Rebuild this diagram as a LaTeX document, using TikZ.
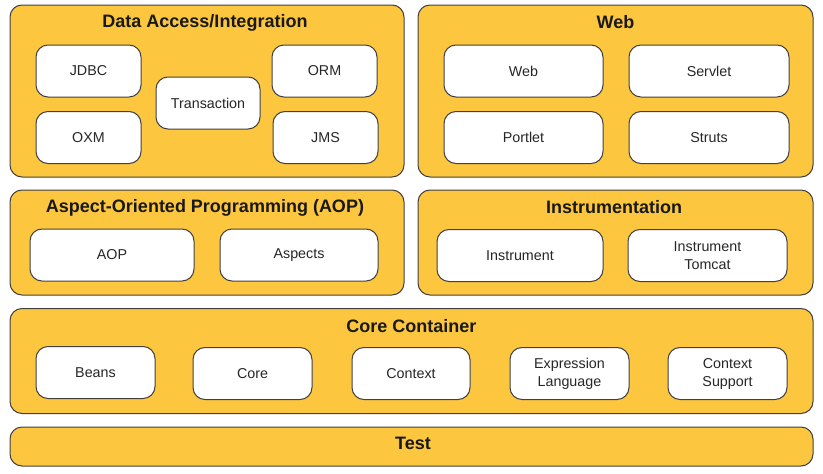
\documentclass[tikz,border=0pt]{standalone}
\usepackage{fontspec}
\setmainfont{Liberation Sans}
\begin{document}
\begin{tikzpicture}[x=1pt,y=-1pt,
  panel/.style={draw=black!75, line width=1pt, fill=springyellow, rounded corners=12pt, inner sep=0pt},
  mod/.style={draw=black!75, line width=1pt, fill=white, rounded corners=12pt, inner sep=0pt, align=center,
     font=\fontsize{14.3}{18}\selectfont, text=black!85},
  ttl/.style={font=\fontsize{18}{20}\selectfont\bfseries, text=black!90, inner sep=0pt}]
\definecolor{springyellow}{HTML}{FCC63F}
\useasboundingbox (0,0) rectangle (823,474);
% panels
\node[panel, minimum width=394pt, minimum height=172pt] (da) at (207,91) {};
\node[panel, minimum width=395pt, minimum height=172pt] (web) at (615.5,91) {};
\node[panel, minimum width=394pt, minimum height=105pt] (aop) at (207,242.5) {};
\node[panel, minimum width=395pt, minimum height=105pt] (ins) at (615.5,242.5) {};
\node[panel, minimum width=803pt, minimum height=105pt] (core) at (411.5,361) {};
\node[panel, minimum width=803pt, minimum height=39pt] (test) at (411.5,446.5) {};
% titles
\node[ttl] (dat) at (205,22.5) {Data Access/Integration};
\node[ttl] (webt) at (615.5,22.5) {Web};
\node[ttl] (aopt) at (205,208) {Aspect-Oriented Programming (AOP)};
\node[ttl] (inst) at (614,207.5) {Instrumentation};
\node[ttl] (coret) at (411.5,326) {Core Container};
\node[ttl] (testt) at (413,443.5) {Test};
% data access modules
\node[mod, minimum width=105pt, minimum height=52pt] (jdbc) at (88.5,71) {JDBC};
\node[mod, minimum width=105pt, minimum height=52pt] (oxm) at (88.5,137.5) {OXM};
\node[mod, minimum width=104pt, minimum height=52pt] (tx) at (208,103) {Transaction};
\node[mod, minimum width=105pt, minimum height=52pt] (orm) at (324.5,71) {ORM};
\node[mod, minimum width=105pt, minimum height=52pt] (jms) at (325.5,137.5) {JMS};
% web modules
\node[mod, minimum width=159pt, minimum height=52pt] (webm) at (523.5,71) {Web};
\node[mod, minimum width=160pt, minimum height=52pt] (servlet) at (709,71) {Servlet};
\node[mod, minimum width=159pt, minimum height=52pt] (portlet) at (523.5,137.5) {Portlet};
\node[mod, minimum width=160pt, minimum height=52pt] (struts) at (709,137.5) {Struts};
% aop modules
\node[mod, minimum width=164pt, minimum height=52pt] (aopm) at (112,255) {AOP};
\node[mod, minimum width=158pt, minimum height=52pt] (aspects) at (299,255) {Aspects};
% instrumentation modules
\node[mod, minimum width=166pt, minimum height=52pt] (instr) at (520,255.5) {Instrument};
\node[mod, minimum width=159pt, minimum height=52pt] (instt) at (707.5,255.5) {Instrument\\Tomcat};
% core modules
\node[mod, minimum width=119pt, minimum height=52pt] (beans) at (95.5,372.5) {Beans};
\node[mod, minimum width=119pt, minimum height=52pt] (coremod) at (252.5,373.5) {Core};
\node[mod, minimum width=118pt, minimum height=52pt] (ctx) at (411,373.5) {Context};
\node[mod, minimum width=119pt, minimum height=52pt] (el) at (569.5,373.5) {Expression\\Language};
\node[mod, minimum width=119pt, minimum height=52pt] (ctxs) at (727.5,373.5) {Context\\Support};
\end{tikzpicture}
\end{document}
